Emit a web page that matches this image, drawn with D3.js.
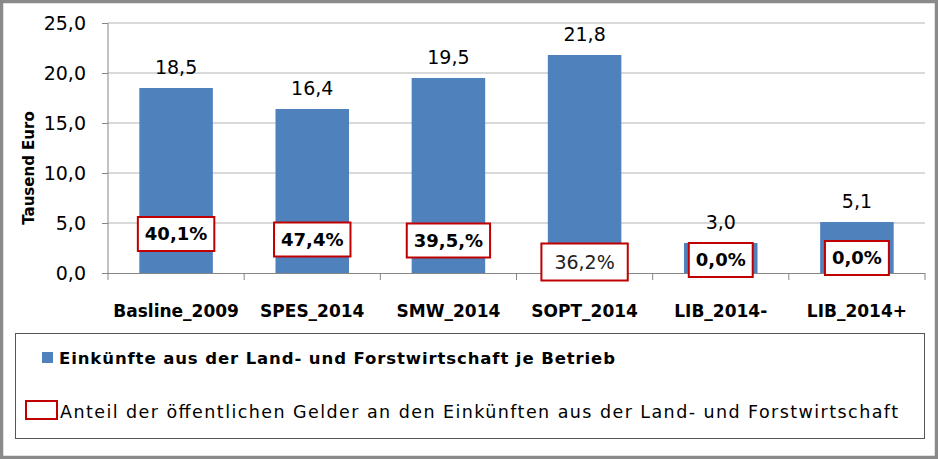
<!DOCTYPE html>
<html><head><meta charset="utf-8">
<script src="https://cdn.jsdelivr.net/npm/d3@7"></script>
<style>
html,body{margin:0;padding:0;background:#fff;}
svg{display:block;font-family:"DejaVu Sans",sans-serif;}
</style></head>
<body>
<svg id="chart" width="938" height="459"></svg>
<script>
// ---- data ----
const categories = ["Basline_2009","SPES_2014","SMW_2014","SOPT_2014","LIB_2014-","LIB_2014+"];
const income = [18.5, 16.4, 19.5, 21.8, 3.0, 5.1];
const incomeLabels = ["18,5","16,4","19,5","21,8","3,0","5,1"];
const shareLabels = ["40,1%","47,4%","39,5,%","36,2%","0,0%","0,0%"];
const yTicks = [0,5,10,15,20,25];
const yTickLabels = ["0,0","5,0","10,0","15,0","20,0","25,0"];
const seriesNames = ["Einkünfte aus der Land- und Forstwirtschaft je Betrieb",
  "Anteil der öffentlichen Gelder an den Einkünften aus der Land- und Forstwirtschaft"];
const yTitle = "Tausend Euro";

// ---- layout (not data) ----
const boxCenterValue = [3.9, 3.35, 3.25, 1.1, 1.3, 1.5]; // vertical placement of share boxes
const boxBold = [true,true,true,false,true,true];

const svg = d3.select("#chart");
const W = 938, H = 459;
const blue = "#4f81bd", red = "#c00000";

// outer frame
svg.append("rect").attr("x",1.5).attr("y",1.5).attr("width",W-3).attr("height",H-3)
  .attr("fill","#fff").attr("stroke","#8a8a8a").attr("stroke-width",3.5);

const x = d3.scaleBand().domain(categories).range([108,925]).paddingInner(0.46).paddingOuter(0.23);
const y = d3.scaleLinear().domain([0,25]).range([273,23]);

// gridlines
svg.append("g").selectAll("line").data(yTicks.slice(1)).join("line")
  .attr("x1",108).attr("x2",925).attr("y1",d=>y(d)).attr("y2",d=>y(d))
  .attr("stroke","#b3b3b3").attr("stroke-width",1);

// bars
svg.append("g").selectAll("rect").data(income).join("rect")
  .attr("x",(d,i)=>x(categories[i])).attr("width",x.bandwidth())
  .attr("y",d=>y(d)).attr("height",d=>y(0)-y(d)).attr("fill",blue);

// y axis
const yAxis = d3.axisLeft(y).tickValues(yTicks).tickSize(6).tickPadding(16)
  .tickFormat((d,i)=>yTickLabels[i]);
const gy = svg.append("g").attr("transform","translate(108,0)").call(yAxis);
gy.select(".domain").attr("stroke","#868686").attr("d","M0,23V273");
gy.selectAll(".tick line").attr("stroke","#868686");
gy.selectAll(".tick text").attr("font-size",19).attr("fill","#000").attr("font-family","DejaVu Sans");

// x axis
const xStep = x.step();
const xAxis = d3.axisBottom(x).tickSize(0).tickPadding(32);
const gx = svg.append("g").attr("transform","translate(0,273)").call(xAxis);
gx.select(".domain").attr("stroke","#868686").attr("d","M102,0.5H925");
gx.selectAll(".tick text").attr("font-size",17).attr("fill","#000").attr("font-family","DejaVu Sans").attr("font-weight","bold");
// category separator ticks
const bounds = d3.range(categories.length+1).map(i=> i<categories.length ? x(categories[i]) - (xStep - x.bandwidth())/2 : 925);
svg.append("g").selectAll("line").data(bounds).join("line")
  .attr("x1",d=>d).attr("x2",d=>d).attr("y1",273).attr("y2",280)
  .attr("stroke","#868686");

// value labels
svg.append("g").selectAll("text").data(income).join("text")
  .attr("x",(d,i)=>x(categories[i])+x.bandwidth()/2).attr("y",d=>y(d)-14)
  .attr("text-anchor","middle").attr("font-size",19).attr("fill","#000")
  .text((d,i)=>incomeLabels[i]);

// share boxes
const gb = svg.append("g");
shareLabels.forEach((lab,i)=>{
  const cx = x(categories[i])+x.bandwidth()/2;
  const cy = y(boxCenterValue[i]);
  const g = gb.append("g");
  const t = g.append("text").attr("x",cx).attr("y",cy).attr("dy","0.36em")
    .attr("text-anchor","middle").attr("font-size",boxBold[i]?18:19)
    .attr("font-weight",boxBold[i]?"bold":"normal").attr("fill",boxBold[i]?"#000":"#222").text(lab);
  const w = t.node().getComputedTextLength() + (boxBold[i]?14:26);
  const h = boxBold[i]?34:37;
  g.insert("rect","text").attr("x",cx-w/2).attr("y",cy-h/2).attr("width",w).attr("height",h)
    .attr("fill","#fff").attr("stroke",red).attr("stroke-width",2);
});

// y title
svg.append("text").attr("transform","translate(34,168) rotate(-90)")
  .attr("text-anchor","middle").attr("font-size",15).attr("font-weight","bold").text(yTitle);

// legend
svg.append("rect").attr("x",15.5).attr("y",333.5).attr("width",909).attr("height",105)
  .attr("fill","#fff").attr("stroke","#555").attr("stroke-width",1);
svg.append("rect").attr("x",42).attr("y",352).attr("width",11).attr("height",11).attr("fill",blue);
svg.append("text").attr("x",59).attr("y",364).attr("font-size",16.5).attr("font-weight","bold")
  .attr("textLength",556).attr("lengthAdjust","spacing").text(seriesNames[0]);
svg.append("rect").attr("x",26).attr("y",401).attr("width",31).attr("height",18)
  .attr("fill","#fff").attr("stroke",red).attr("stroke-width",2);
svg.append("text").attr("x",60).attr("y",418).attr("font-size",17.5)
  .attr("textLength",838).attr("lengthAdjust","spacing").text(seriesNames[1]);
</script>
</body></html>
